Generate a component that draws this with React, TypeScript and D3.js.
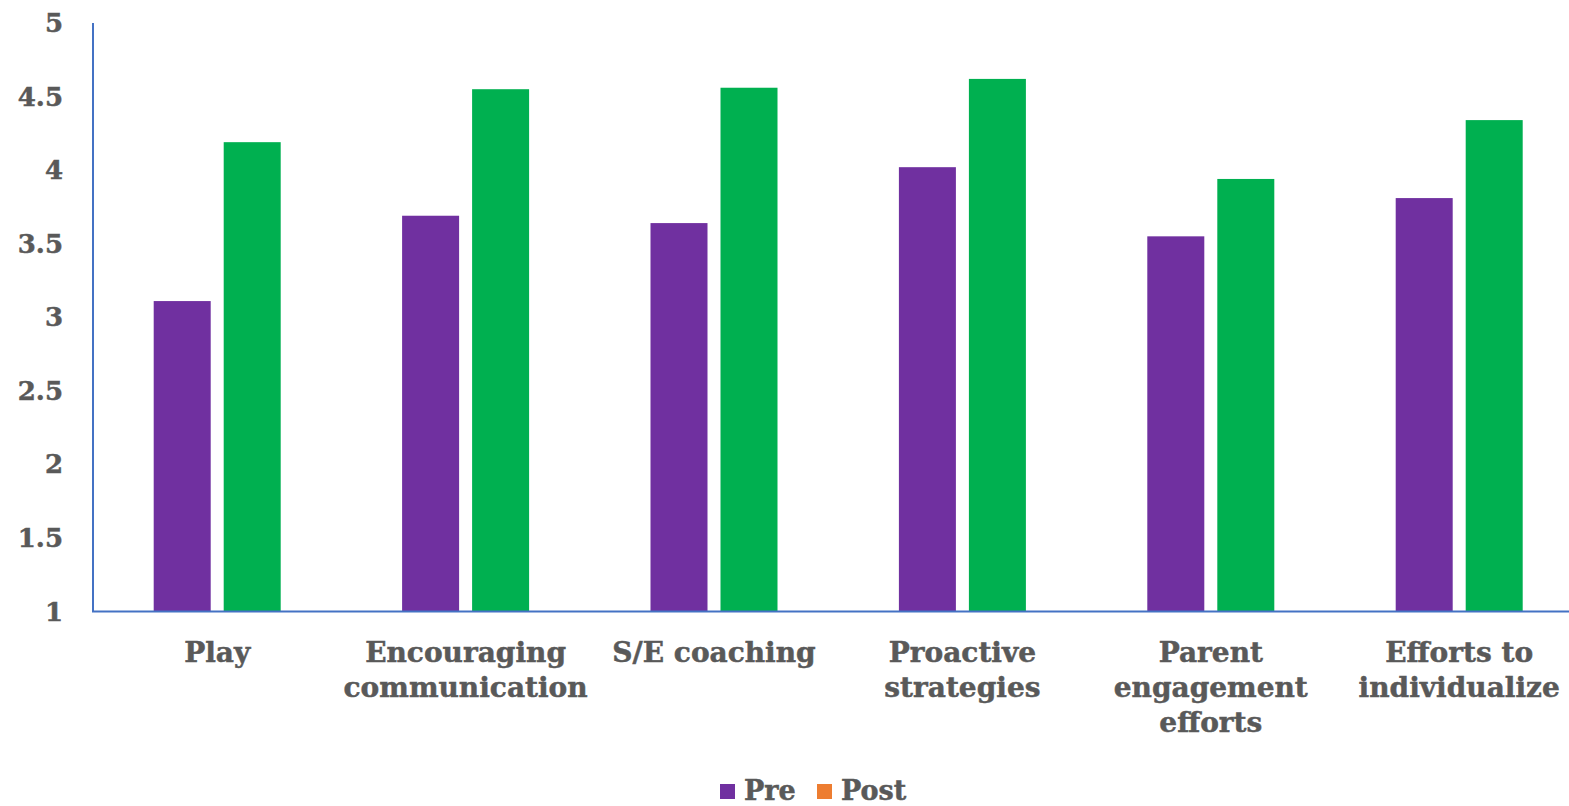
import React from "react";
import * as d3 from "d3";

const categories: string[][] = [
  ["Play"],
  ["Encouraging", "communication"],
  ["S/E coaching"],
  ["Proactive", "strategies"],
  ["Parent", "engagement", "efforts"],
  ["Efforts to", "individualize"],
];
const preValues = [3.11, 3.69, 3.64, 4.02, 3.55, 3.81];
const postValues = [4.19, 4.55, 4.56, 4.62, 3.94, 4.34];
const yTicks = [1, 1.5, 2, 2.5, 3, 3.5, 4, 4.5, 5];
const seriesNames = ["Pre", "Post"];
const legendColors = ["#7030A0", "#ED7D31"];
const barColors = ["#7030A0", "#00B050"];

const W = 1569;
const H = 806;
const FONT = "'DejaVu Serif', serif";
const TEXT = "#595959";

export default function App() {
  const x0 = 93;
  const band = 248.4;
  const xScale = d3
    .scaleBand<number>()
    .domain(categories.map((_, i) => i))
    .range([x0, x0 + band * categories.length])
    .padding(0);
  const yScale = d3.scaleLinear().domain([1, 5]).range([611.5, 23]);
  const barW = 57;
  const gap = 13;
  const series = [preValues, postValues];
  const textProps = {
    fontFamily: FONT,
    fontWeight: "bold" as const,
    fill: TEXT,
    stroke: TEXT,
    strokeWidth: 0.5,
  };

  return (
    <svg
      width={W}
      height={H}
      style={{ position: "absolute", left: 0, top: 0, background: "#fff" }}
    >
      {/* bars */}
      {categories.map((_, i) => {
        const center = (xScale(i) as number) + xScale.bandwidth() / 2;
        const groupW = barW * 2 + gap;
        return series.map((vals, s) => {
          const x = center - groupW / 2 + s * (barW + gap);
          const y = yScale(vals[i]);
          return (
            <rect
              key={`${i}-${s}`}
              x={x}
              y={y}
              width={barW}
              height={yScale(1) - y}
              fill={barColors[s]}
            />
          );
        });
      })}
      {/* axes */}
      <line x1={93} x2={93} y1={yScale(5)} y2={yScale(1)} stroke="#4472C4" strokeWidth={2} />
      <line x1={92} x2={W} y1={yScale(1)} y2={yScale(1)} stroke="#4472C4" strokeWidth={2} />
      {/* y tick labels */}
      {yTicks.map((t) => (
        <text
          key={t}
          x={63}
          y={yScale(t)}
          dy="0.35em"
          textAnchor="end"
          fontSize={26}
          {...textProps}
        >
          {d3.format("~g")(t)}
        </text>
      ))}
      {/* category labels */}
      {categories.map((lines, i) => {
        const center = (xScale(i) as number) + xScale.bandwidth() / 2;
        return (
          <text key={i} x={center} y={662} textAnchor="middle" fontSize={28} {...textProps}>
            {lines.map((l, k) => (
              <tspan key={k} x={center} y={662 + k * 35}>
                {l}
              </tspan>
            ))}
          </text>
        );
      })}
      {/* legend */}
      {seriesNames.map((n, s) => {
        const lx = s === 0 ? 720 : 817;
        return (
          <g key={n}>
            <rect x={lx} y={784} width={15} height={15} fill={legendColors[s]} />
            <text x={lx + 24} y={800} fontSize={27} {...textProps}>
              {n}
            </text>
          </g>
        );
      })}
    </svg>
  );
}
